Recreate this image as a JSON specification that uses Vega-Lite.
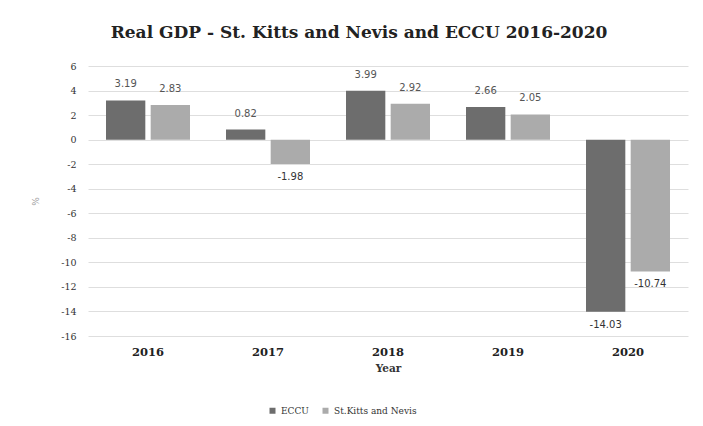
{
  "$schema": "https://vega.github.io/schema/vega-lite/v6.json",
  "autosize": "none",
  "width": 600,
  "height": 270,
  "padding": {"left": 88, "top": 66, "right": 15, "bottom": 90},
  "background": "white",
  "title": {"text": "Real GDP - St. Kitts and Nevis and ECCU 2016-2020", "font": "DejaVu Serif", "fontSize": 17, "fontWeight": "bold", "color": "#222222", "offset": 19, "dx": -29},
  "data": {"values": [
    {"Year": "2016", "series": "ECCU", "value": 3.19, "label": "3.19"},
    {"Year": "2016", "series": "St.Kitts and Nevis", "value": 2.83, "label": "2.83"},
    {"Year": "2017", "series": "ECCU", "value": 0.82, "label": "0.82"},
    {"Year": "2017", "series": "St.Kitts and Nevis", "value": -1.98, "label": "-1.98"},
    {"Year": "2018", "series": "ECCU", "value": 3.99, "label": "3.99"},
    {"Year": "2018", "series": "St.Kitts and Nevis", "value": 2.92, "label": "2.92"},
    {"Year": "2019", "series": "ECCU", "value": 2.66, "label": "2.66"},
    {"Year": "2019", "series": "St.Kitts and Nevis", "value": 2.05, "label": "2.05"},
    {"Year": "2020", "series": "ECCU", "value": -14.03, "label": "-14.03"},
    {"Year": "2020", "series": "St.Kitts and Nevis", "value": -10.74, "label": "-10.74"}
  ]},
  "encoding": {
    "x": {"field": "Year", "type": "nominal", "scale": {"paddingInner": 0.3, "paddingOuter": 0.15},
      "axis": {"title": "Year", "labelAngle": 0, "labelFont": "DejaVu Serif", "labelFontSize": 11.5, "labelFontWeight": "bold", "labelColor": "#222222", "labelPadding": 10, "titleFont": "DejaVu Serif", "titleFontSize": 10.5, "titleFontWeight": "bold", "titleColor": "#333333", "titlePadding": 6, "ticks": false, "domain": false}},
    "xOffset": {"field": "series", "type": "nominal", "scale": {"paddingInner": 0.12}},
    "y": {"field": "value", "type": "quantitative", "scale": {"domain": [-16, 6], "nice": false},
      "axis": {"title": "%", "values": [-16, -14, -12, -10, -8, -6, -4, -2, 0, 2, 4, 6], "labelExpr": "'' + datum.value", "labelFont": "DejaVu Serif", "labelFontSize": 9.5, "labelColor": "#333333", "labelPadding": 12, "ticks": false, "domain": false, "gridColor": "#dedede", "titleFont": "DejaVu Serif", "titleFontSize": 9, "titleFontWeight": "normal", "titleColor": "#999999", "titlePadding": 20}}
  },
  "layer": [
    {"mark": {"type": "bar"},
     "encoding": {"color": {"field": "series", "type": "nominal", "scale": {"domain": ["ECCU", "St.Kitts and Nevis"], "range": ["#6d6d6d", "#ababab"]},
       "legend": {"title": null, "orient": "none", "direction": "horizontal", "legendX": 180, "legendY": 340, "symbolType": "square", "symbolSize": 36, "labelFont": "DejaVu Serif", "labelFontSize": 9, "labelColor": "#333333", "columnPadding": 12}}}},
    {"transform": [{"filter": "datum.value >= 0"}],
     "mark": {"type": "text", "baseline": "bottom", "dy": -11, "font": "DejaVu Sans", "fontSize": 10, "color": "#555555"},
     "encoding": {"text": {"field": "label"}}},
    {"transform": [{"filter": "datum.value < 0"}],
     "mark": {"type": "text", "baseline": "top", "dy": 8, "font": "DejaVu Sans", "fontSize": 10, "color": "#333333"},
     "encoding": {"text": {"field": "label"}}}
  ],
  "config": {"view": {"stroke": null}}
}
